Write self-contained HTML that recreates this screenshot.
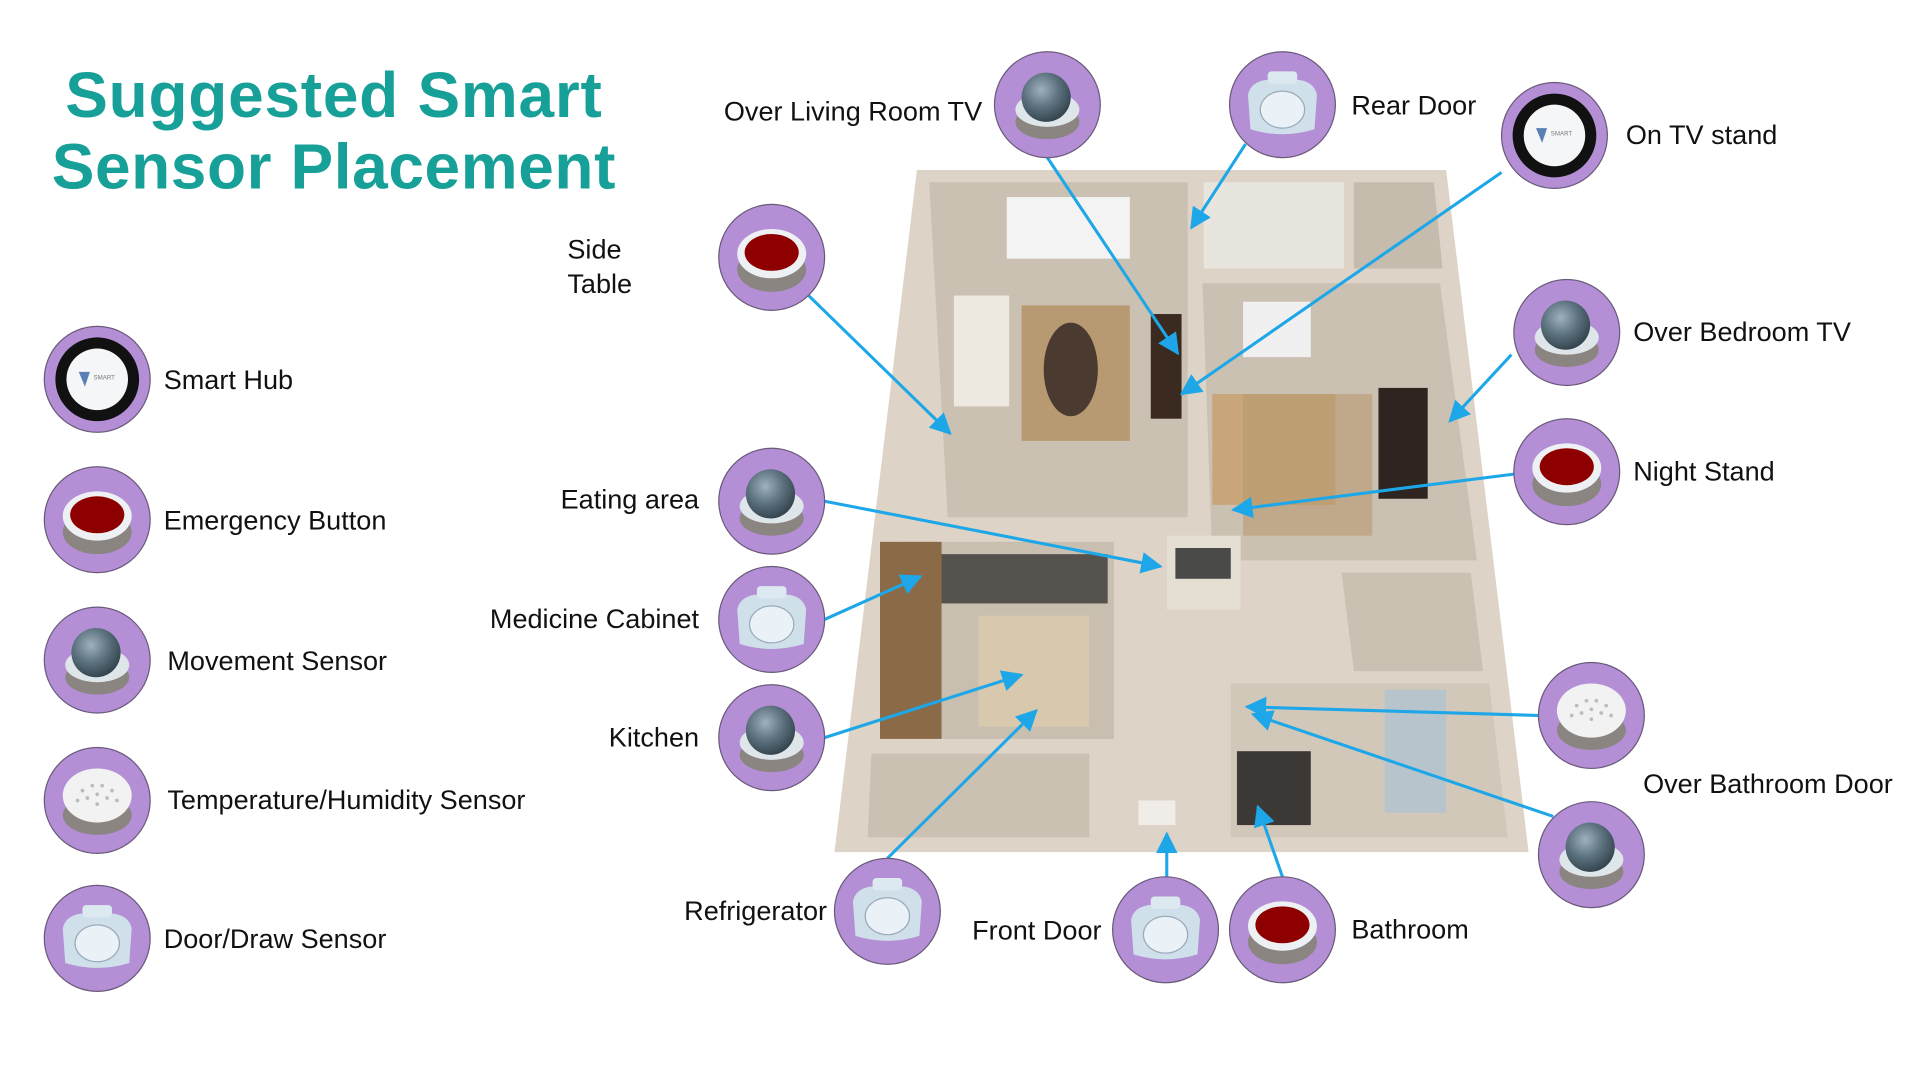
<!DOCTYPE html>
<html><head><meta charset="utf-8"><style>
html,body{margin:0;padding:0;background:#fff;width:1920px;height:1080px;overflow:hidden}
svg{display:block}
text{font-family:"Liberation Sans",sans-serif;fill:#111}
</style></head><body>
<svg width="1920" height="1080" viewBox="0 0 1560 877" preserveAspectRatio="none">
<defs>
<radialGradient id="dome" cx="0.4" cy="0.35" r="0.7"><stop offset="0" stop-color="#9fb2bd"/><stop offset="0.5" stop-color="#5d7380"/><stop offset="1" stop-color="#2f3f48"/></radialGradient>
<marker id="ah" viewBox="0 0 10 10" refX="9" refY="5" markerWidth="7" markerHeight="7" orient="auto"><path d="M0,0L10,5L0,10z" fill="#1ea7e8"/></marker>
<g id="mov"><circle r="43" fill="#b48fd6" stroke="#6a5a7a" stroke-width="1"/><ellipse cx="0" cy="14" rx="26" ry="14" fill="#8a8580"/><ellipse cx="0" cy="4" rx="26" ry="14" fill="#dfe6ea"/><circle cx="-1" cy="-6" r="20" fill="url(#dome)"/></g>
<g id="emg"><circle r="43" fill="#b48fd6" stroke="#6a5a7a" stroke-width="1"/><ellipse cx="0" cy="10" rx="28" ry="18" fill="#8a8580"/><ellipse cx="0" cy="-3" rx="28" ry="20" fill="#eef1f3"/><ellipse cx="0" cy="-4" rx="22" ry="15" fill="#8e0000"/></g>
<g id="door"><circle r="43" fill="#b48fd6" stroke="#6a5a7a" stroke-width="1"/><path d="M-28,-8 Q-26,-18 -14,-20 L14,-20 Q26,-18 28,-8 L26,20 Q0,28 -26,20Z" fill="#cfe0ea"/><ellipse cx="0" cy="4" rx="18" ry="15" fill="#eaf2f7" stroke="#9ab"/><rect x="-12" y="-27" width="24" height="10" rx="3" fill="#dde9f0"/></g>
<g id="hub"><circle r="43" fill="#b48fd6" stroke="#6a5a7a" stroke-width="1"/><circle r="34" fill="#111"/><circle r="25" fill="#f4f6f8"/><path d="M-15,-6 L-6,-6 L-10,6Z" fill="#5a7fb5"/><text x="-3" y="0" font-size="5" style="fill:#777">SMART</text></g>
<g id="tmp"><circle r="43" fill="#b48fd6" stroke="#6a5a7a" stroke-width="1"/><ellipse cx="0" cy="12" rx="28" ry="16" fill="#8a8580"/><ellipse cx="0" cy="-4" rx="28" ry="22" fill="#f2f2f2"/><g fill="#bbb"><circle cx="-12" cy="-8" r="1.5"/><circle cx="-4" cy="-12" r="1.5"/><circle cx="4" cy="-12" r="1.5"/><circle cx="12" cy="-8" r="1.5"/><circle cx="-8" cy="-2" r="1.5"/><circle cx="0" cy="-5" r="1.5"/><circle cx="8" cy="-2" r="1.5"/><circle cx="-16" cy="0" r="1.5"/><circle cx="16" cy="0" r="1.5"/><circle cx="0" cy="3" r="1.5"/></g></g>
</defs>

<text x="271" y="95" font-size="52" font-weight="bold" text-anchor="middle" textLength="436" style="fill:#17a098">Suggested Smart</text>
<text x="271" y="153" font-size="52" font-weight="bold" text-anchor="middle" textLength="458" style="fill:#17a098">Sensor Placement</text>

<!-- floor plan -->
<polygon points="745,138 1175,138 1242,692 678,692" fill="#ddd3c6"/>
<polygon points="755,148 965,148 965,420 770,420" fill="#cbc1b3"/>
<polygon points="977,230 1170,230 1200,455 985,455" fill="#cbc1b3"/>
<polygon points="1100,148 1165,148 1172,218 1100,218" fill="#c6bcae"/>
<polygon points="978,148 1092,148 1092,218 978,218" fill="#e8e4de"/>
<polygon points="730,440 905,440 905,600 715,600" fill="#c9bfb1"/>
<rect x="765" y="450" width="135" height="40" fill="#55514d"/>
<rect x="715" y="440" width="50" height="160" fill="#8a6a47"/>
<rect x="795" y="500" width="90" height="90" fill="#d8c8ae"/>
<polygon points="708,612 885,612 885,680 705,680" fill="#cbc1b3"/>
<polygon points="1000,555 1210,555 1225,680 1000,680" fill="#d2c8ba"/>
<rect x="1005" y="610" width="60" height="60" fill="#3b3835"/>
<rect x="1125" y="560" width="50" height="100" fill="#b8c4cc"/>
<polygon points="1090,465 1195,465 1205,545 1100,545" fill="#cbc1b3"/>
<rect x="830" y="248" width="88" height="110" fill="#b79a72"/>
<ellipse cx="870" cy="300" rx="22" ry="38" fill="#4a3a30"/>
<rect x="775" y="240" width="45" height="90" fill="#eee9e0"/>
<rect x="935" y="255" width="25" height="85" fill="#3a2a20"/>
<rect x="818" y="160" width="100" height="50" fill="#f3f3f3"/>
<rect x="985" y="320" width="100" height="90" fill="#c9a57a"/>
<rect x="1010" y="320" width="105" height="115" fill="#b89a6e" opacity="0.6"/>
<rect x="1120" y="315" width="40" height="90" fill="#2e2420"/>
<rect x="948" y="435" width="60" height="60" fill="#e5ded3"/>
<rect x="955" y="445" width="45" height="25" fill="#4a4a48"/>
<rect x="1010" y="245" width="55" height="45" fill="#f0f0f0"/>
<rect x="925" y="650" width="30" height="20" fill="#f0ede8"/>

<!-- arrows -->
<g stroke="#1ea7e8" stroke-width="2.5" fill="none" marker-end="url(#ah)">
<line x1="851" y1="128" x2="957" y2="287"/>
<line x1="1012" y1="117" x2="968" y2="185"/>
<line x1="1220" y1="140" x2="960" y2="320"/>
<line x1="657" y1="240" x2="772" y2="352"/>
<line x1="1228" y1="288" x2="1178" y2="342"/>
<line x1="1230" y1="385" x2="1002" y2="414"/>
<line x1="670" y1="407" x2="943" y2="460"/>
<line x1="670" y1="503" x2="748" y2="468"/>
<line x1="670" y1="599" x2="830" y2="548"/>
<line x1="721" y1="697" x2="842" y2="577"/>
<line x1="948" y1="712" x2="948" y2="677"/>
<line x1="1042" y1="712" x2="1022" y2="655"/>
<line x1="1250" y1="581" x2="1013" y2="574"/>
<line x1="1262" y1="663" x2="1018" y2="580"/>
</g>

<!-- legend -->
<use href="#hub" x="79" y="308"/><text x="133" y="316" font-size="22">Smart Hub</text>
<use href="#emg" x="79" y="422"/><text x="133" y="430" font-size="22">Emergency Button</text>
<use href="#mov" x="79" y="536"/><text x="136" y="544" font-size="22">Movement Sensor</text>
<use href="#tmp" x="79" y="650"/><text x="136" y="657" font-size="22">Temperature/Humidity Sensor</text>
<use href="#door" x="79" y="762"/><text x="133" y="770" font-size="22">Door/Draw Sensor</text>

<!-- placements -->
<use href="#mov" x="851" y="85"/><text x="798" y="98" font-size="22" text-anchor="end">Over Living Room TV</text>
<use href="#door" x="1042" y="85"/><text x="1098" y="93" font-size="22">Rear Door</text>
<use href="#hub" x="1263" y="110"/><text x="1321" y="117" font-size="22">On TV stand</text>
<use href="#emg" x="627" y="209"/><text x="461" y="210" font-size="22">Side</text><text x="461" y="238" font-size="22">Table</text>
<use href="#mov" x="1273" y="270"/><text x="1327" y="277" font-size="22">Over Bedroom TV</text>
<use href="#emg" x="1273" y="383"/><text x="1327" y="390" font-size="22">Night Stand</text>
<use href="#mov" x="627" y="407"/><text x="568" y="413" font-size="22" text-anchor="end">Eating area</text>
<use href="#door" x="627" y="503"/><text x="568" y="510" font-size="22" text-anchor="end">Medicine Cabinet</text>
<use href="#mov" x="627" y="599"/><text x="568" y="606" font-size="22" text-anchor="end">Kitchen</text>
<use href="#tmp" x="1293" y="581"/>
<use href="#mov" x="1293" y="694"/><text x="1335" y="644" font-size="22">Over Bathroom Door</text>
<use href="#door" x="721" y="740"/><text x="672" y="747" font-size="22" text-anchor="end">Refrigerator</text>
<use href="#door" x="947" y="755"/><text x="895" y="763" font-size="22" text-anchor="end">Front Door</text>
<use href="#emg" x="1042" y="755"/><text x="1098" y="762" font-size="22">Bathroom</text>
</svg>
</body></html>
